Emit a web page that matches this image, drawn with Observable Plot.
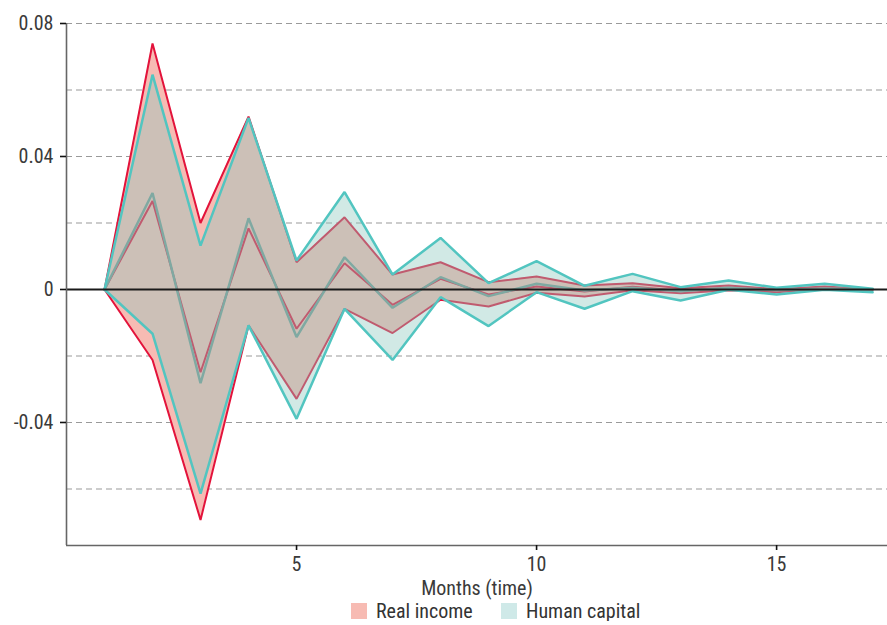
<!DOCTYPE html>
<html><head><meta charset="utf-8">
<script src="https://cdn.jsdelivr.net/npm/d3@7"></script>
<script src="https://cdn.jsdelivr.net/npm/@observablehq/plot@0.6"></script>
<style>
body{margin:0;background:#fff;font-family:"Roboto Condensed",Roboto,sans-serif;}
#legend{display:flex;align-items:center;height:20px;padding-left:351px;font-size:20px;line-height:20px;color:#333;margin-top:1px;}
.sw{width:16px;height:16px;margin-right:9px;flex:none;}
.item{display:flex;align-items:center;}
</style></head><body><div id="chart"></div><div id="legend"></div>
<script>
const months = [1,2,3,4,5,6,7,8,9,10,11,12,13,14,15,16,17];
const incomeUpper  = [0,0.074,0.020,0.052,0.0082,0.0217,0.0045,0.0082,0.0022,0.0039,0.0012,0.0019,0.0004,0.0012,0.0001,0.0009,0];
const incomeLower  = [0,-0.0212,-0.0693,-0.0108,-0.0329,-0.0058,-0.0131,-0.0031,-0.0051,-0.0010,-0.0021,-0.0002,-0.0011,-0.0002,-0.0008,0.0002,0];
const incomeMid    = [0,0.0266,-0.0249,0.0184,-0.0118,0.0079,-0.0046,0.0032,-0.0015,0.0009,-0.0006,0.0008,-0.0004,0.0005,-0.0002,0.0002,0];
const humanUpper   = [0,0.0646,0.0132,0.0516,0.0087,0.0293,0.0045,0.0155,0.0019,0.0085,0.0011,0.0047,0.0007,0.0027,0.0005,0.0017,0.0002];
const humanLower   = [0,-0.0133,-0.0614,-0.0108,-0.0389,-0.0058,-0.0212,-0.0023,-0.0110,-0.0008,-0.0058,-0.0005,-0.0033,-0.0001,-0.0015,-0.0001,-0.0008];
const humanMid     = [0,0.0290,-0.0282,0.0214,-0.0143,0.0097,-0.0055,0.0037,-0.0020,0.0017,-0.0003,0.0005,-0.0005,0.0005,-0.0002,0.0003,0];
const yTicks = [0.08,0.04,0,-0.04];
const gridValues = [0.08,0.06,0.04,0.02,-0.02,-0.04,-0.06];
const xTicks = [5,10,15];
const seriesNames = ["Real income","Human capital"];
const seriesFills = ["#f7bbb3","#cfe9e8"];

const rows = months.map((m,i)=>({month:m, iu:incomeUpper[i], il:incomeLower[i], ic:incomeMid[i], hu:humanUpper[i], hl:humanLower[i], hc:humanMid[i]}));
const xDomain = [0.208, 17.31];
const yDomain = [-0.077, 0.08];
const crimson = "#e3133b", teal = "#52c5c0";
const fmt = d => d === 0 ? "0" : d.toFixed(2);

const chart = Plot.plot({
  width: 887, height: 600,
  marginLeft: 66, marginTop: 23, marginRight: 0, marginBottom: 55,
  x: {domain: xDomain},
  y: {domain: yDomain},
  style: {fontFamily: '"Roboto Condensed",Roboto,sans-serif', fontSize: "20px", color: "#3a3a3a", background: "#fff"},
  marks: [
    Plot.ruleY(gridValues, {stroke: "#9a9a9a", strokeWidth: 1.2, strokeDasharray: "6,4"}),
    Plot.areaY(rows, {x: "month", y1: "il", y2: "iu", fill: seriesFills[0]}),
    Plot.lineY(rows, {x: "month", y: "iu", stroke: crimson, strokeWidth: 2, strokeLinejoin: "miter"}),
    Plot.lineY(rows, {x: "month", y: "il", stroke: crimson, strokeWidth: 2, strokeLinejoin: "miter"}),
    Plot.lineY(rows, {x: "month", y: "ic", stroke: crimson, strokeWidth: 2, strokeLinejoin: "miter"}),
    Plot.areaY(rows, {x: "month", y1: "hl", y2: "hu", fill: "rgb(140,200,190)", fillOpacity: 0.4}),
    Plot.lineY(rows, {x: "month", y: "hc", stroke: "#7fa9a2", strokeWidth: 2.5, strokeLinejoin: "miter"}),
    Plot.lineY(rows, {x: "month", y: "hu", stroke: teal, strokeWidth: 2.5, strokeLinejoin: "miter"}),
    Plot.lineY(rows, {x: "month", y: "hl", stroke: teal, strokeWidth: 2.5, strokeLinejoin: "miter"}),
    Plot.ruleY([0], {stroke: "#1a1a1a", strokeWidth: 2}),
    Plot.ruleX([xDomain[0]], {stroke: "#666", strokeWidth: 1.6}),
    Plot.ruleY([yDomain[0]], {stroke: "#666", strokeWidth: 1.6}),
    Plot.axisY({ticks: yTicks, tickFormat: fmt, tickSize: 6, tickPadding: 7, stroke: "#111", strokeWidth: 1.6, label: null}),
    Plot.axisX({ticks: xTicks, tickSize: 5, tickPadding: 6, stroke: "#111", strokeWidth: 1.6, label: "Months (time)", labelAnchor: "center", labelArrow: "none", labelOffset: 49})
  ]
});
document.getElementById("chart").appendChild(chart);

const legend = document.getElementById("legend");
seriesNames.forEach((n,i)=>{
  const it = document.createElement("div"); it.className = "item";
  if (i === 0) it.style.width = "150px";
  const sw = document.createElement("div"); sw.className = "sw"; sw.style.background = seriesFills[i];
  const t = document.createElement("span"); t.textContent = n;
  it.appendChild(sw); it.appendChild(t); legend.appendChild(it);
});
</script></body></html>
